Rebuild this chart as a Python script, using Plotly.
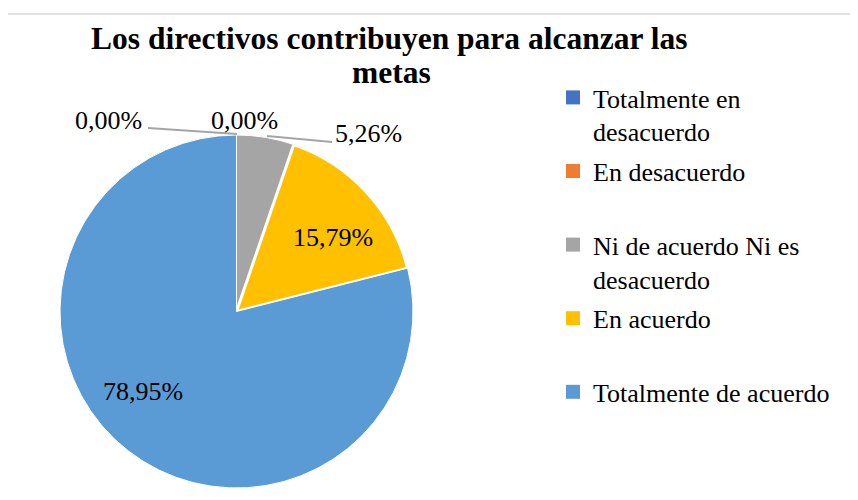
import plotly.graph_objects as go

categories = ["Totalmente en desacuerdo", "En desacuerdo", "Ni de acuerdo Ni es desacuerdo",
              "En acuerdo", "Totalmente de acuerdo"]
legend_names = ["Totalmente en<br>desacuerdo", "En desacuerdo<br>\u00a0",
                "Ni de acuerdo Ni es<br>desacuerdo", "En acuerdo<br>\u00a0",
                "Totalmente de acuerdo<br>\u00a0"]
values = [0.0, 0.0, 5.26, 15.79, 78.95]
colors = ["#4472C4", "#ED7D31", "#A5A5A5", "#FFC000", "#5B9BD5"]
title_lines = ["Los directivos contribuyen para alcanzar las", "metas"]

SERIF = "Liberation Serif, Times New Roman, serif"
W, H = 858, 500
OFF = 8  # default page margin around the plot div


def px(x):
    return (x - OFF) / W


def py(y):
    return 1 - (y - OFF) / H


def fmt(v):
    return f"{v:.2f}".replace(".", ",") + "%"


fig = go.Figure()
fig.add_trace(go.Pie(
    labels=categories, values=values, sort=False, direction="clockwise", rotation=0,
    marker=dict(colors=colors, line=dict(color="white", width=[0, 0, 1, 3, 1])),
    textinfo="none", showlegend=False, hoverinfo="label+percent",
    domain=dict(x=[px(60), px(413)], y=[py(488), py(135)]),
))

for name, col in zip(legend_names, colors):
    fig.add_trace(go.Scatter(x=[None], y=[None], mode="markers", name=name,
                             legendgroup=name,
                             marker=dict(symbol="square", size=14, color=col)))

# data label positions (pixel centres)
label_pos = [(108, 121), (245, 121), (368, 133), (332.5, 237.5), (142.5, 391)]
for v, (lx, ly) in zip(values, label_pos):
    fig.add_annotation(x=px(lx), y=py(ly), xref="paper", yref="paper",
                       text=fmt(v), showarrow=False,
                       font=dict(family=SERIF, size=26, color="#000000"),
                       xanchor="center", yanchor="middle")

# leader lines
leaders = [((148, 128), (237, 134)), ((267, 136), (332, 142))]
for (x0, y0), (x1, y1) in leaders:
    fig.add_shape(type="line", xref="paper", yref="paper",
                  x0=px(x0), y0=py(y0), x1=px(x1), y1=py(y1),
                  line=dict(color="#A5A5A5", width=2))

# title (two lines)
for txt, (tx, ty) in zip(title_lines, [(389, 38.5), (391, 72.5)]):
    fig.add_annotation(x=px(tx), y=py(ty), xref="paper", yref="paper",
                       text=f"<b>{txt}</b>", showarrow=False,
                       font=dict(family=SERIF, size=31.5, color="#000000"),
                       xanchor="center", yanchor="middle")

# chart border
fig.add_shape(type="rect", xref="paper", yref="paper",
              x0=px(6), y0=-0.05, x1=1.05, y1=py(14),
              line=dict(color="#D6D6D6", width=1.5))

fig.update_layout(
    width=W, height=H, margin=dict(l=0, r=0, t=0, b=0),
    paper_bgcolor="white", plot_bgcolor="white",
    xaxis=dict(visible=False, domain=[0.99, 1.0]),
    yaxis=dict(visible=False, domain=[0.99, 1.0]),
    legend=dict(x=px(553), y=py(74), xanchor="left", yanchor="top",
                font=dict(family=SERIF, size=26, color="#000000"),
                valign="top", tracegroupgap=3, traceorder="grouped",
                bgcolor="rgba(0,0,0,0)"),
)

fig.write_html("out.html")
